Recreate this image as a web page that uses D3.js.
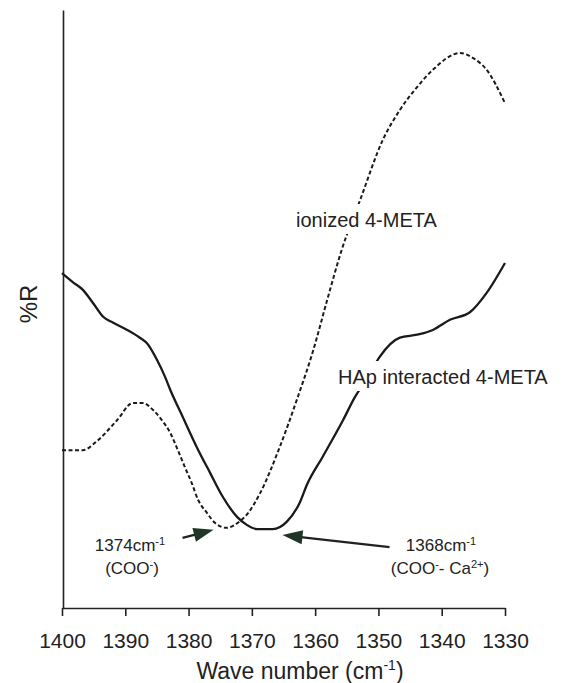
<!DOCTYPE html>
<html>
<head>
<meta charset="utf-8">
<script src="https://cdn.jsdelivr.net/npm/d3@7"></script>
<style>
  body { margin: 0; background: #fff; }
  text { font-family: "Liberation Sans", Arial, sans-serif; fill: #222; }
</style>
</head>
<body>
<svg id="chart" width="566" height="683"></svg>
<script>
// Wave-number ticks (cm-1), plotted high to low
const xTicks = [1400, 1390, 1380, 1370, 1360, 1350, 1340, 1330];

// ionized 4-META (dashed)
const ionizedWave = [1400, 1396.7, 1394.5, 1391.3, 1388.8, 1387.2, 1385.6, 1384.2, 1382.9, 1381.7,
  1380.6, 1379.5, 1378.5, 1377.1, 1375.8, 1374, 1373.5, 1371.9, 1370.8, 1368.7, 1365.6,
  1362.9, 1360.3, 1358.1, 1355.8, 1352.9, 1349.3, 1346.6, 1343.9, 1341.4, 1337.1,
  1335.1, 1332.9, 1330];
const ionizedR = [26.4, 26.4, 27.9, 31.4, 34.3, 34.3, 33.1, 31.4, 29.3, 26.4,
  23.6, 20.9, 18.1, 15.9, 14.2, 13.4, 13.5, 14.5, 15.6, 19.2, 26.9,
  34.8, 43.1, 51.5, 59.9, 68.2, 78.3, 83.3, 87.1, 90.0, 92.8,
  92.0, 90.0, 84.4];

// HAp interacted 4-META (solid)
const hapWave = [1400, 1398.3, 1396.7, 1395.1, 1393.5, 1391.9, 1389.7, 1387.7, 1386.6, 1385,
  1383.7, 1382.9, 1380.9, 1378.7, 1376.6, 1374.6, 1372.3, 1370.8, 1369.2, 1366.7,
  1364.5, 1362.4, 1361.3, 1358.8, 1355.6, 1353.7, 1351.7, 1349.8, 1346.6, 1343.9,
  1341.4, 1338.7, 1335.5, 1332.9, 1330];
const hapR = [56.0, 54.5, 53.2, 51.0, 48.7, 47.7, 46.5, 45.2, 44.3, 41.5,
  38.6, 36.5, 31.9, 26.9, 22.6, 18.6, 15.2, 13.9, 13.2, 13.2,
  14.4, 17.7, 20.6, 25.3, 31.4, 35.3, 38.6, 42.0, 45.2, 45.7,
  46.5, 48.2, 49.5, 52.7, 57.7];

// Band minima called out on the chart
const peakWave = [1374, 1368];
const peakR = [13.4, 13.2];

const svg = d3.select("#chart");

const x = d3.scaleLinear().domain([1400, 1330]).range([62, 505]);
const y = d3.scaleLinear().domain([0, 100]).range([608, 10]);

// x axis
const xAxis = svg.append("g")
  .attr("transform", `translate(0,${y(0)})`)
  .call(d3.axisBottom(x).tickValues(xTicks).tickFormat(d3.format("d"))
    .tickSize(8).tickSizeOuter(0).tickPadding(17));
xAxis.select(".domain").attr("stroke", "#222").attr("stroke-width", 1.6);
xAxis.selectAll(".tick line").attr("stroke", "#222").attr("stroke-width", 1.6);
xAxis.selectAll(".tick text")
  .style("font-family", '"Liberation Sans", Arial, sans-serif')
  .style("font-size", "21px").attr("fill", "#222");

// y axis (no ticks)
const yAxis = svg.append("g")
  .attr("transform", `translate(${x(1400) + 1},0)`)
  .call(d3.axisLeft(y).tickValues([]).tickSizeOuter(0));
yAxis.select(".domain").attr("stroke", "#222").attr("stroke-width", 1.6);

// axis titles
const title = svg.append("text")
  .attr("x", 300).attr("y", 679)
  .attr("text-anchor", "middle").style("font-size", "23px");
title.append("tspan").text("Wave number (cm");
title.append("tspan").text("-1").attr("dy", -9).style("font-size", "14px");
title.append("tspan").text(")").attr("dy", 9);

svg.append("text")
  .attr("transform", "translate(37,304) rotate(-90)")
  .attr("text-anchor", "middle").style("font-size", "24px")
  .text("%R");

// curves
const line = d3.line()
  .x(d => x(d[0])).y(d => y(d[1]))
  .curve(d3.curveMonotoneX);

const ionized = ionizedWave.map((w, i) => [w, ionizedR[i]]);
const hap = hapWave.map((w, i) => [w, hapR[i]]);

svg.append("path").datum(ionized)
  .attr("d", line).attr("fill", "none")
  .attr("stroke", "#1a1a1a").attr("stroke-width", 2)
  .attr("stroke-dasharray", "4 2.5");

svg.append("path").datum(hap)
  .attr("d", line).attr("fill", "none")
  .attr("stroke", "#1a1a1a").attr("stroke-width", 2.3)
  .attr("stroke-linejoin", "round");

// series labels on white boxes
function seriesLabel(txt, lx, ly, size) {
  const g = svg.append("g");
  const t = g.append("text").attr("x", lx).attr("y", ly)
    .style("font-size", size + "px").text(txt);
  const b = t.node().getBBox();
  g.insert("rect", "text")
    .attr("x", b.x - 3).attr("y", b.y - 5)
    .attr("width", b.width + 6).attr("height", b.height + 8)
    .attr("fill", "#fff");
}
seriesLabel("ionized 4-META", 296, 227, 20);
seriesLabel("HAp interacted 4-META", 338, 384, 20);

// arrows pointing at the band minima
function arrow(tx, ty, dx, dy) {
  const len = Math.hypot(dx, dy);
  const ux = dx / len, uy = dy / len;
  const head = 20, half = 7;
  svg.append("line")
    .attr("x1", tx + ux * head * 0.8).attr("y1", ty + uy * head * 0.8)
    .attr("x2", tx + dx).attr("y2", ty + dy)
    .attr("stroke", "#222").attr("stroke-width", 2.2);
  const bx = tx + ux * head, by = ty + uy * head;
  svg.append("path")
    .attr("d", `M${tx},${ty}L${bx - uy * half},${by + ux * half}` +
      `L${bx + uy * half},${by - ux * half}Z`)
    .attr("fill", "#1f3527");
}
arrow(x(peakWave[0]) - 13, y(peakR[0]) + 2, -31, 8);
arrow(x(peakWave[1]) + 18, y(peakR[1]) + 6, 107, 12);

// annotation text; superscript runs are raised, the next run drops back
function note(cx, cy, parts, size) {
  const t = svg.append("text").attr("x", cx).attr("y", cy)
    .attr("text-anchor", "middle").style("font-size", size + "px");
  let raised = false;
  parts.forEach(p => {
    const s = t.append("tspan").text(p.s);
    if (p.sup) {
      s.attr("dy", raised ? 0 : -6).style("font-size", (size * 0.65) + "px");
      raised = true;
    } else if (raised) {
      s.attr("dy", 6);
      raised = false;
    }
  });
}
note(130, 551, [{ s: peakWave[0] + "cm" }, { s: "-1", sup: true }], 17);
note(132, 574, [{ s: "(COO" }, { s: "-", sup: true }, { s: ")" }], 17);
note(441, 551, [{ s: peakWave[1] + "cm" }, { s: "-1", sup: true }], 17);
note(440, 574, [{ s: "(COO" }, { s: "-", sup: true }, { s: "- Ca" }, { s: "2+", sup: true }, { s: ")" }], 17);
</script>
</body>
</html>
